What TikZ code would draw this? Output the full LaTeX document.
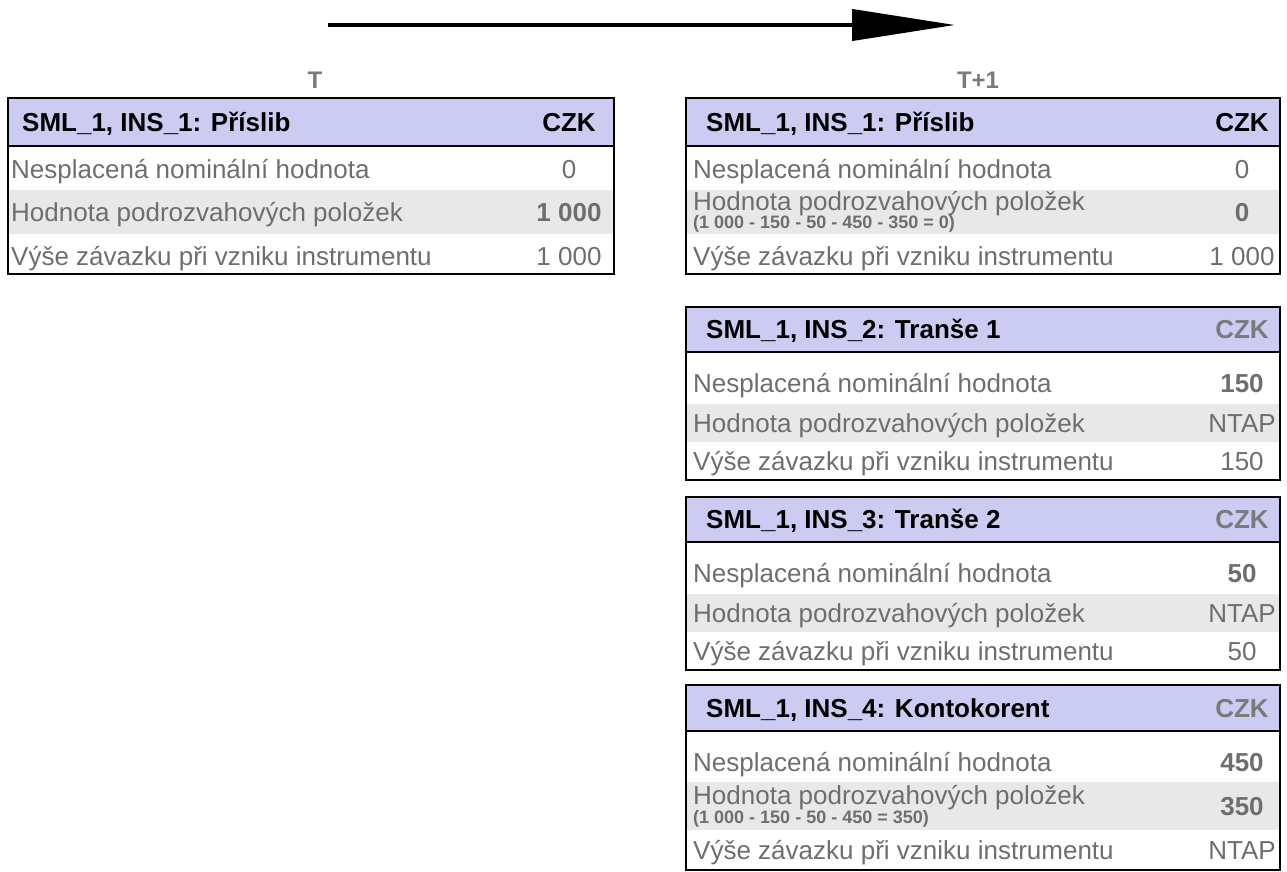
\documentclass[tikz,border=0pt]{standalone}
\usepackage{fontspec}
\setmainfont{Liberation Sans}
\usetikzlibrary{arrows.meta}

\definecolor{hdrfill}{HTML}{CCCCF2}
\definecolor{rowgrey}{HTML}{E8E8E8}
\definecolor{txtgrey}{HTML}{6E6E6E}
\definecolor{czkgrey}{HTML}{7A7A7A}

\newcommand{\bodyfont}{\fontsize{26}{30}\selectfont}
\newcommand{\notefont}{\fontsize{18}{21}\selectfont\bfseries}
\newcommand{\periodfont}{\fontsize{24}{28}\selectfont\bfseries}

\tikzset{
  frame/.style={draw=black, line width=2pt},
  cellline/.style={draw=black, line width=2pt},
  txt/.style={inner sep=0pt, font=\bodyfont, text height=18.6pt, text depth=0pt},
  hdrtxt/.style={txt, anchor=west, font=\bodyfont\bfseries, text=black},
  czkblack/.style={txt, anchor=center, font=\bodyfont\bfseries, text=black},
  czk/.style={txt, anchor=center, font=\bodyfont\bfseries, text=czkgrey},
  lbl/.style={txt, anchor=west, text=txtgrey},
  val/.style={txt, anchor=center, text=txtgrey},
  valb/.style={txt, anchor=center, font=\bodyfont\bfseries, text=txtgrey},
  note/.style={inner sep=0pt, anchor=west, font=\notefont, text=txtgrey, text height=12.9pt, text depth=0pt},
  period/.style={inner sep=0pt, anchor=center, font=\periodfont, text=czkgrey, text height=17pt, text depth=0pt},
}

\begin{document}
\begin{tikzpicture}[x=1pt, y=-1pt]
\useasboundingbox (0,0) rectangle (1287,872);

% time arrow
\coordinate (tStart) at (328,25);
\coordinate (tEnd) at (955,25);
\draw[line width=4pt, -{Triangle[length=103pt 0 0, width=31pt 0 0]}] (tStart) -- (tEnd);

\node[period] (perT) at (315,80) {T};
\node[period] (perT1) at (978,80) {T+1};

% ---------- period T: commitment ----------
\fill[hdrfill] (8,98) rectangle (614,146);
\fill[rowgrey] (8,190) rectangle (614,234);
\draw[cellline] (8,146) -- (614,146);
\draw[frame] (8,98) rectangle (614,274);
\node[hdrtxt] (a-h) at (22,122) {SML\_1, INS\_1: Příslib};
\node[czkblack] (a-c) at (569,122) {CZK};
\node[lbl] (a-l1) at (11,169) {Nesplacená nominální hodnota};
\node[val] (a-v1) at (569,169) {0};
\node[lbl] (a-l2) at (11,212.5) {Hodnota podrozvahových položek};
\node[valb] (a-v2) at (569,212.5) {1 000};
\node[lbl] (a-l3) at (11,256) {Výše závazku při vzniku instrumentu};
\node[val] (a-v3) at (569,256) {1 000};

% ---------- period T+1: commitment ----------
\fill[hdrfill] (686,98) rectangle (1280,146);
\fill[rowgrey] (686,190) rectangle (1280,234);
\draw[cellline] (686,146) -- (1280,146);
\draw[frame] (686,98) rectangle (1280,274);
\node[hdrtxt] (b-h) at (706,122) {SML\_1, INS\_1: Příslib};
\node[czkblack] (b-c) at (1242,122) {CZK};
\node[lbl] (b-l1) at (693,169) {Nesplacená nominální hodnota};
\node[val] (b-v1) at (1242,169) {0};
\node[lbl] (b-l2) at (693,201) {Hodnota podrozvahových položek};
\node[note] (b-n2) at (693,222.5) {(1 000 - 150 - 50 - 450 - 350 = 0)};
\node[valb] (b-v2) at (1242,212.5) {0};
\node[lbl] (b-l3) at (693,256) {Výše závazku při vzniku instrumentu};
\node[val] (b-v3) at (1242,256) {1 000};

% ---------- period T+1: tranche 1 ----------
\fill[hdrfill] (686,307) rectangle (1280,352);
\fill[rowgrey] (686,404) rectangle (1280,442);
\draw[cellline] (686,352) -- (1280,352);
\draw[frame] (686,307) rectangle (1280,480);
\node[hdrtxt] (c-h) at (706,329.5) {SML\_1, INS\_2: Tranše 1};
\node[czk] (c-c) at (1242,329.5) {CZK};
\node[lbl] (c-l1) at (693,383) {Nesplacená nominální hodnota};
\node[valb] (c-v1) at (1242,383) {150};
\node[lbl] (c-l2) at (693,423) {Hodnota podrozvahových položek};
\node[val] (c-v2) at (1242,423) {NTAP};
\node[lbl] (c-l3) at (693,461) {Výše závazku při vzniku instrumentu};
\node[val] (c-v3) at (1242,461) {150};

% ---------- period T+1: tranche 2 ----------
\fill[hdrfill] (686,497) rectangle (1280,542);
\fill[rowgrey] (686,594) rectangle (1280,632);
\draw[cellline] (686,542) -- (1280,542);
\draw[frame] (686,497) rectangle (1280,670);
\node[hdrtxt] (d-h) at (706,519.5) {SML\_1, INS\_3: Tranše 2};
\node[czk] (d-c) at (1242,519.5) {CZK};
\node[lbl] (d-l1) at (693,573) {Nesplacená nominální hodnota};
\node[valb] (d-v1) at (1242,573) {50};
\node[lbl] (d-l2) at (693,613) {Hodnota podrozvahových položek};
\node[val] (d-v2) at (1242,613) {NTAP};
\node[lbl] (d-l3) at (693,651) {Výše závazku při vzniku instrumentu};
\node[val] (d-v3) at (1242,651) {50};

% ---------- period T+1: overdraft ----------
\fill[hdrfill] (686,685) rectangle (1280,731);
\fill[rowgrey] (686,782) rectangle (1280,830);
\draw[cellline] (686,731) -- (1280,731);
\draw[frame] (686,685) rectangle (1280,870);
\node[hdrtxt] (e-h) at (706,708) {SML\_1, INS\_4: Kontokorent};
\node[czk] (e-c) at (1242,708) {CZK};
\node[lbl] (e-l1) at (693,762) {Nesplacená nominální hodnota};
\node[valb] (e-v1) at (1242,762) {450};
\node[lbl] (e-l2) at (693,795) {Hodnota podrozvahových položek};
\node[note] (e-n2) at (693,817) {(1 000 - 150 - 50 - 450 = 350)};
\node[valb] (e-v2) at (1242,806) {350};
\node[lbl] (e-l3) at (693,850) {Výše závazku při vzniku instrumentu};
\node[val] (e-v3) at (1242,850) {NTAP};
\end{tikzpicture}
\end{document}
